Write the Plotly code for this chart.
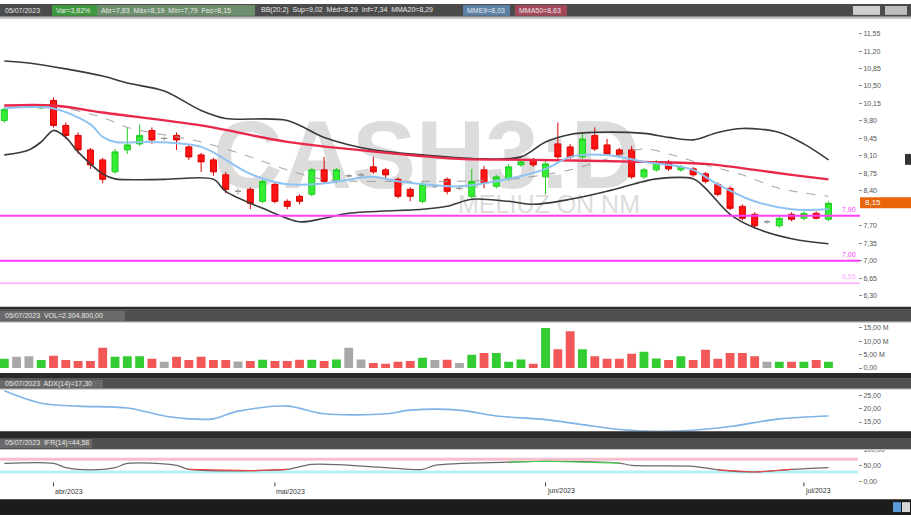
import pandas as pd
import plotly.graph_objects as go

W, H = 911, 518


def fx(px):
    # pixel -> paper x
    return px / W


def fy(py):
    # pixel (from top) -> paper y
    return 1 - py / H


# trading days (B3 holidays removed)
holidays = ["2023-04-07", "2023-04-21", "2023-05-01", "2023-06-08"]
dates = [d.strftime("%Y-%m-%d") for d in pd.bdate_range("2023-03-28", "2023-07-05")
         if d.strftime("%Y-%m-%d") not in holidays]

opens = [9.81, 10.10, 10.10, 10.06, 10.21, 9.71, 9.51, 9.22, 9.02, 8.78,
         9.22, 9.34, 9.61, 9.45, 9.51, 9.28, 9.12, 9.02, 8.72, 8.39,
         8.43, 8.19, 8.53, 8.19, 8.29, 8.33, 8.82, 8.59, 8.70, 8.72,
         8.88, 8.82, 8.63, 8.43, 8.19, 8.50, 8.63, 8.45, 8.29, 8.82,
         8.49, 8.64, 8.92, 9.02, 8.68, 9.34, 9.28, 9.08, 9.51, 9.32,
         9.22, 9.22, 8.68, 8.82, 8.98, 8.82, 8.84, 8.74, 8.53, 8.45,
         8.09, 7.93, 7.78, 7.70, 7.93, 7.85, 7.95, 7.83]
highs = [10.08, 10.12, 10.12, 10.14, 10.27, 9.77, 9.57, 9.26, 9.06, 9.24,
         9.67, 9.73, 9.67, 9.48, 9.57, 9.32, 9.16, 9.06, 8.78, 8.45,
         8.47, 8.63, 8.57, 8.23, 8.33, 8.86, 9.08, 8.86, 8.74, 8.76,
         9.08, 8.86, 8.67, 8.47, 8.57, 8.53, 8.67, 8.49, 8.84, 8.90,
         8.72, 8.94, 9.02, 9.06, 9.02, 9.77, 9.34, 9.57, 9.67, 9.44,
         9.26, 9.30, 8.86, 9.02, 9.02, 8.92, 8.88, 8.78, 8.57, 8.49,
         8.13, 7.97, 7.82, 7.89, 7.97, 7.99, 7.99, 8.19]
lows = [9.76, 10.08, 10.07, 10.04, 9.67, 9.44, 9.14, 8.84, 8.55, 8.74,
        9.14, 9.30, 9.34, 9.40, 9.22, 9.02, 8.78, 8.70, 8.35, 8.33,
        8.03, 8.15, 8.15, 8.03, 8.13, 8.29, 8.55, 8.55, 8.66, 8.68,
        8.74, 8.63, 8.25, 8.19, 8.15, 8.46, 8.33, 8.41, 8.25, 8.45,
        8.45, 8.60, 8.88, 8.88, 8.33, 9.04, 9.04, 9.04, 9.20, 9.10,
        9.08, 8.64, 8.64, 8.78, 8.80, 8.78, 8.68, 8.55, 8.29, 8.01,
        7.81, 7.64, 7.74, 7.66, 7.79, 7.81, 7.83, 7.79]
closes = [10.03, 10.10, 10.10, 10.10, 9.71, 9.51, 9.22, 8.92, 8.63, 9.18,
          9.32, 9.51, 9.42, 9.45, 9.42, 9.08, 8.98, 8.78, 8.43, 8.39,
          8.15, 8.59, 8.19, 8.09, 8.19, 8.82, 8.59, 8.82, 8.70, 8.72,
          8.78, 8.72, 8.29, 8.29, 8.53, 8.50, 8.39, 8.45, 8.59, 8.55,
          8.68, 8.88, 8.98, 8.92, 8.94, 9.08, 9.08, 9.44, 9.24, 9.14,
          9.12, 8.68, 8.82, 8.98, 8.84, 8.88, 8.72, 8.59, 8.33, 8.05,
          7.85, 7.70, 7.78, 7.85, 7.83, 7.95, 7.85, 8.15]
volume_m = [3.5, 4.2, 4.4, 3.0, 4.6, 3.0, 2.6, 2.6, 7.6, 4.2,
            4.4, 4.4, 3.5, 2.3, 4.2, 3.0, 4.2, 3.0, 3.0, 2.4,
            2.6, 3.1, 2.6, 2.6, 3.1, 3.1, 2.6, 3.2, 7.6, 3.2,
            1.9, 1.6, 2.3, 2.6, 3.8, 3.0, 3.1, 1.9, 5.0, 5.6,
            5.6, 2.3, 3.2, 1.6, 15.0, 7.0, 13.8, 7.0, 4.4, 3.5,
            3.5, 5.3, 6.1, 3.6, 3.0, 4.4, 3.0, 6.8, 3.5, 5.6,
            5.6, 4.4, 2.3, 2.3, 2.3, 2.3, 3.0, 2.3]

# indicator readings (candle index, value)
bb_upper_idx = [0, 2, 8, 10, 13, 16, 18, 23, 26, 30, 34, 39, 42, 44, 46, 48, 52, 54, 56, 58, 60, 63, 65, 67]
bb_upper_val = [11.00, 10.96, 10.70, 10.56, 10.40, 10.01, 9.85, 9.81, 9.47, 9.22, 9.12, 9.04,
                9.08, 9.38, 9.53, 9.57, 9.55, 9.47, 9.42, 9.57, 9.65, 9.57, 9.34, 9.02]
bb_lower_idx = [0, 2, 3, 4, 5, 6, 8, 9, 13, 17, 18, 21, 24, 26, 28, 34, 36, 38, 41, 43, 46, 49,
                52, 53, 56, 57, 59, 61, 64, 67]
bb_lower_val = [9.12, 9.22, 9.38, 9.61, 9.47, 9.18, 8.74, 8.64, 8.63, 8.63, 8.39, 8.05, 7.78,
                7.85, 7.95, 8.03, 8.09, 8.23, 8.19, 8.13, 8.23, 8.39, 8.59, 8.64, 8.64, 8.45,
                7.93, 7.66, 7.44, 7.34]
bb_mid_idx = [4, 8, 10, 16, 20, 23, 26, 33, 41, 46, 49, 52, 54, 57, 60, 63, 67]
bb_mid_val = [10.11, 9.87, 9.67, 9.38, 9.08, 8.82, 8.63, 8.59, 8.63, 8.82, 9.04, 9.24, 9.14,
              8.92, 8.72, 8.45, 8.29]
ma50_idx = [0, 4, 8, 16, 23, 32, 37, 43, 52, 57, 61, 64, 67]
ma50_val = [10.11, 10.11, 9.97, 9.71, 9.38, 9.14, 9.04, 9.02, 8.98, 8.94, 8.82, 8.72, 8.63]
ma9_idx = [0, 4, 7, 8, 9, 12, 16, 20, 23, 26, 30, 32, 37, 41, 44, 46, 49, 52, 54, 56, 58, 61, 64, 67]
ma9_val = [10.05, 10.05, 9.73, 9.48, 9.38, 9.38, 9.28, 8.74, 8.53, 8.55, 8.68, 8.59, 8.49, 8.64,
           8.84, 9.08, 9.12, 8.98, 8.92, 8.82, 8.53, 8.19, 8.03, 8.03]
adx_idx = [0, 3, 6, 10, 13, 15, 17, 19, 23, 26, 31, 33, 37, 40, 44, 47, 50, 53, 56, 59, 63, 67]
adx_val = [26.8, 22.1, 21.0, 20.3, 17.3, 16.2, 16.2, 19.1, 21.0, 18.1, 18.1, 19.5, 19.5, 17.3,
           15.9, 14.0, 12.2, 11.5, 11.9, 13.3, 16.2, 17.3]
rsi_idx = [0, 4, 5, 7, 9, 10, 14, 15, 20, 23, 25, 31, 34, 35, 41, 44, 50, 51, 56, 58, 61, 64, 67]
rsi_val = [57, 57, 44, 37, 44, 57, 51, 38, 34, 38, 54, 44, 38, 51, 61, 64, 58, 51, 48, 37, 30, 38, 44]

levels = [7.90, 7.00, 6.55]
level_text = ["7,90", "7,00", "6,55"]
level_color = ["#ff3cff", "#ff3cff", "#ffaaff"]

price_ticks = [11.55, 11.20, 10.85, 10.50, 10.15, 9.80, 9.45, 9.10, 8.75, 8.40, 7.70, 7.35, 7.00, 6.65, 6.30]
vol_ticks = [15, 10, 5, 0]
vol_text = ["15,00 M", "10,00 M", "5,00 M", "0,00"]
adx_ticks = [25, 20, 15]
rsi_ticks = [100, 50, 0]

month_dates = ["2023-04-03", "2023-05-02", "2023-06-01", "2023-07-03"]
month_text = ["abr/2023", "mai/2023", "jun/2023", "jul/2023"]


def br(v):
    return f"{v:.2f}".replace(".", ",")


fig = go.Figure()

# candles: regular ones and dojis in gray
idx_body = [i for i in range(len(dates)) if opens[i] != closes[i]]
idx_doji = [i for i in range(len(dates)) if opens[i] == closes[i]]
fig.add_trace(go.Candlestick(
    x=[dates[i] for i in idx_body],
    open=[opens[i] for i in idx_body], high=[highs[i] for i in idx_body],
    low=[lows[i] for i in idx_body], close=[closes[i] for i in idx_body],
    increasing=dict(line=dict(color="#22cc22", width=1), fillcolor="#33ee33"),
    decreasing=dict(line=dict(color="#dd0000", width=1), fillcolor="#ff1414"),
    whiskerwidth=0, xaxis="x", yaxis="y",
))
fig.add_trace(go.Candlestick(
    x=[dates[i] for i in idx_doji],
    open=[opens[i] for i in idx_doji], high=[highs[i] for i in idx_doji],
    low=[lows[i] for i in idx_doji], close=[closes[i] for i in idx_doji],
    increasing=dict(line=dict(color="#999999", width=1), fillcolor="#999999"),
    decreasing=dict(line=dict(color="#999999", width=1), fillcolor="#999999"),
    whiskerwidth=0, xaxis="x", yaxis="y",
))


def add_line(idx, vals, color, width, yaxis="y", dash="solid"):
    fig.add_trace(go.Scatter(
        x=[dates[i] for i in idx], y=vals, mode="lines",
        line=dict(color=color, width=width, shape="spline", smoothing=0.9, dash=dash),
        xaxis="x", yaxis=yaxis, hoverinfo="skip",
    ))


add_line(bb_mid_idx, bb_mid_val, "#a0a0a0", 1, dash="dash")
add_line(bb_upper_idx, bb_upper_val, "#3a3a3a", 1.6)
add_line(bb_lower_idx, bb_lower_val, "#3a3a3a", 1.6)
add_line(ma50_idx, ma50_val, "#e8274a", 2.4)
add_line(ma9_idx, ma9_val, "#8fc4f2", 2)

# volume
vol_colors = []
for o, c in zip(opens, closes):
    if c > o:
        vol_colors.append("#33cc33")
    elif c < o:
        vol_colors.append("#f25858")
    else:
        vol_colors.append("#a8a8a8")
fig.add_trace(go.Bar(x=dates, y=volume_m, marker_color=vol_colors, marker_line_width=0,
                     width=0.72, xaxis="x", yaxis="y2"))

# ADX
add_line(adx_idx, adx_val, "#7eb3e6", 1.6, yaxis="y3")

# IFR
add_line(rsi_idx, rsi_val, "#6a6a6a", 1.2, yaxis="y4")
rsi_low = [v if v <= 40 else None for v in rsi_val]
rsi_high = [v if v >= 58 else None for v in rsi_val]
fig.add_trace(go.Scatter(x=[dates[i] for i in rsi_idx], y=rsi_low, mode="lines",
                         line=dict(color="#ee4444", width=1.2), xaxis="x", yaxis="y4"))
fig.add_trace(go.Scatter(x=[dates[i] for i in rsi_idx], y=rsi_high, mode="lines",
                         line=dict(color="#44cc44", width=1.2), xaxis="x", yaxis="y4"))

shapes = []
annotations = []


def rect(x0, y0, x1, y1, color, layer="above"):
    shapes.append(dict(type="rect", xref="paper", yref="paper", x0=fx(x0), x1=fx(x1),
                       y0=fy(y1), y1=fy(y0), fillcolor=color, line_width=0, layer=layer))


def text(x, y, s, size=7, color="#e8e8e8", anchor="left"):
    annotations.append(dict(xref="paper", yref="paper", x=fx(x), y=fy(y), text=s,
                            showarrow=False, xanchor=anchor, yanchor="middle",
                            font=dict(size=size, color=color)))


# watermark behind candles
shapes.append(dict(type="rect", xref="paper", yref="paper", x0=fx(180), x1=fx(646),
                   y0=fy(187), y1=fy(100), line_width=0, fillcolor="rgba(0,0,0,0)", layer="below",
                   label=dict(text="CASH3:D", textposition="middle right",
                              font=dict(size=96, color="#dcdcdc", weight="bold"))))
shapes.append(dict(type="rect", xref="paper", yref="paper", x0=fx(420), x1=fx(646),
                   y0=fy(212), y1=fy(190), line_width=0, fillcolor="rgba(0,0,0,0)", layer="below",
                   label=dict(text="MELIUZ ON NM", textposition="middle right",
                              font=dict(size=25, color="#dcdcdc"))))

# horizontal levels
for lv, lt, lc in zip(levels, level_text, level_color):
    shapes.append(dict(type="line", xref="paper", yref="y", x0=0, x1=fx(860), y0=lv, y1=lv,
                       line=dict(color=lc, width=2 if lc == "#ff3cff" else 1.5)))
    annotations.append(dict(xref="paper", yref="y", x=fx(858), y=lv, text=lt, showarrow=False,
                            xanchor="right", yanchor="bottom", yshift=1,
                            font=dict(size=7, color=lc)))

# IFR reference bands
shapes.append(dict(type="line", xref="paper", yref="y4", x0=0, x1=fx(858), y0=70, y1=70,
                   line=dict(color="#f5c0cc", width=3), layer="below"))
shapes.append(dict(type="line", xref="paper", yref="y4", x0=0, x1=fx(858), y0=30, y1=30,
                   line=dict(color="#b8f0f6", width=3), layer="below"))

# main header
rect(0, 0, 911, 13, "#4b4b4b")
rect(0, 13, 911, 15, "#bcbcbc")
rect(52, 1, 97, 12, "#3f9a3f")
rect(97, 1, 255, 12, "#6e8f6e")
rect(463, 1, 510, 12, "#5d80a6")
rect(515, 1, 567, 12, "#a4485c")
rect(853, 2, 880, 11, "#cfcfcf")
rect(885, 2, 907, 11, "#bdbdbd")
text(3, 6.5, "05/07/2023")
text(54, 6.5, "Var=3,82%")
text(99, 6.5, "Abr=7,83  Máx=8,19  Mín=7,79  Fec=8,15")
text(259, 6.5, "BB(20;2)  Sup=9,02  Méd=8,29  Inf=7,34  MMA20=8,29")
text(465, 6.5, "MME9=8,03")
text(517, 6.5, "MMA50=8,63")

# volume header
rect(0, 307, 911, 310, "#2c2c2c")
rect(0, 310, 911, 322, "#4f4f4f")
rect(0, 311, 125, 321, "#6a6a6a")
rect(0, 322, 911, 323, "#c4c4c4")
text(3, 316, "05/07/2023  VOL=2.304.800,00")

# ADX header
rect(0, 374, 911, 380, "#2a2a2a")
rect(0, 380, 911, 390, "#4f4f4f")
rect(0, 381, 103, 389, "#6a6a6a")
rect(0, 390, 911, 391, "#c4c4c4")
text(3, 385, "05/07/2023  ADX(14)=17,30")

# IFR header
rect(0, 433, 911, 440, "#2a2a2a")
rect(0, 440, 911, 451, "#4f4f4f")
rect(0, 441, 92, 450, "#6a6a6a")
rect(0, 451, 911, 452, "#c8c8c8")
text(3, 445.5, "05/07/2023  IFR(14)=44,58")

# bottom bar
rect(0, 502, 911, 518, "#1c1c1c")
rect(893, 505, 901, 515, "#5b9bd5")
rect(902, 505, 910, 515, "#d8d8d8")

# last price tag
rect(860, 196, 911, 207, "#e8650a")
text(863, 201.5, br(closes[-1]), size=8, color="white")
rect(905, 152, 911, 163, "#333333")

# month labels
for d, t in zip(month_dates, month_text):
    shapes.append(dict(type="line", xref="x", yref="paper", x0=d, x1=d, y0=fy(489), y1=fy(485),
                       line=dict(color="#444444", width=1)))
    annotations.append(dict(xref="x", yref="paper", x=d, y=fy(494), text=t, showarrow=False,
                            xanchor="left", yanchor="middle", xshift=-1,
                            font=dict(size=7, color="#333333")))

axis_common = dict(side="right", anchor="x", showgrid=False, zeroline=False, showline=False,
                   ticks="outside", ticklen=3, tickcolor="#888888",
                   tickfont=dict(size=7, color="#555555"), fixedrange=True)

fig.update_layout(
    width=W, height=H,
    margin=dict(l=0, r=0, t=0, b=0),
    paper_bgcolor="white", plot_bgcolor="white",
    showlegend=False,
    font=dict(family="Liberation Sans"),
    xaxis=dict(type="category", categoryorder="array", categoryarray=dates,
               domain=[0, fx(858)], range=[-0.35, 69.4],
               visible=False, rangeslider=dict(visible=False)),
    yaxis=dict(domain=[fy(307), fy(15)], range=[6.076, 11.846],
               tickvals=price_ticks, ticktext=[br(v) for v in price_ticks], **axis_common),
    yaxis2=dict(domain=[fy(374), fy(323)], range=[-1.85, 17.0],
                tickvals=vol_ticks, ticktext=vol_text, **axis_common),
    yaxis3=dict(domain=[fy(433), fy(391)], range=[11.55, 27.2],
                tickvals=adx_ticks, ticktext=[br(v) for v in adx_ticks], **axis_common),
    yaxis4=dict(domain=[fy(484), fy(452)], range=[0, 100],
                tickvals=rsi_ticks, ticktext=[br(v) for v in rsi_ticks], **axis_common),
    shapes=shapes,
    annotations=annotations,
)

# the page body has a default 8px margin; drop it so the chart fills the window
fig.write_html("out.html", config={"displayModeBar": False},
               post_script="document.body.style.margin='0';document.body.style.overflow='hidden';")
